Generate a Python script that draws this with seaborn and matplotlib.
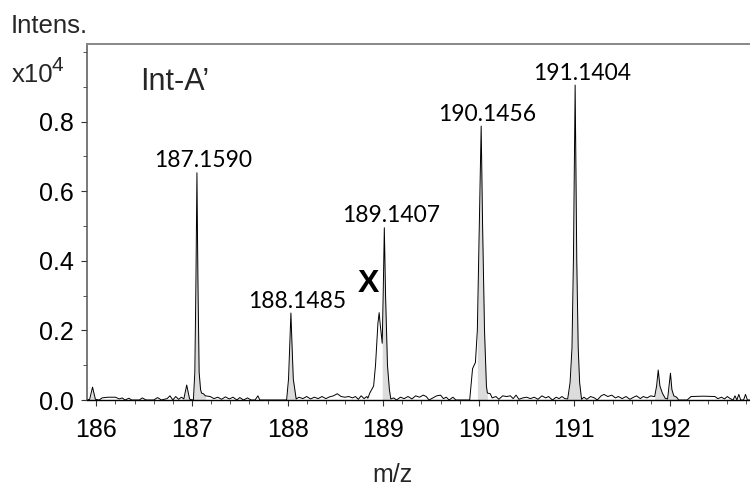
import matplotlib
matplotlib.use("Agg")
import numpy as np
import pandas as pd
import seaborn as sns
import matplotlib.pyplot as plt
from matplotlib.ticker import MultipleLocator, FormatStrFormatter

# ---- data (m/z, intensity in units of 1e4) ----
mz = [185.90, 185.93, 185.96, 185.99, 186.03, 186.06, 186.12, 186.20, 186.24, 186.27,
      186.30, 186.34, 186.37, 186.45, 186.48, 186.52, 186.60, 186.64, 186.68, 186.74,
      186.77, 186.80, 186.83, 186.86, 186.89, 186.915, 186.945, 186.975, 186.99,
      187.015, 187.03, 187.042, 187.052, 187.062, 187.075, 187.09, 187.10, 187.12, 187.14,
      187.19, 187.23, 187.27, 187.31, 187.35, 187.39, 187.43, 187.47, 187.50, 187.54,
      187.58, 187.62, 187.66, 187.69, 187.71,
      187.99, 188.01, 188.025, 188.035, 188.045, 188.06, 188.09,
      188.12, 188.16, 188.20, 188.24, 188.28, 188.32, 188.36, 188.40, 188.44, 188.48,
      188.52, 188.56, 188.60, 188.64, 188.68, 188.71, 188.74, 188.77, 188.80, 188.83,
      188.84, 188.86, 188.90, 188.92, 188.945, 188.958, 188.968, 188.99, 189.0, 189.012,
      189.025, 189.045, 189.065, 189.08,
      189.11, 189.14, 189.18, 189.22, 189.26, 189.30, 189.34, 189.38, 189.42, 189.45,
      189.48, 189.52, 189.56, 189.60, 189.63, 189.66, 189.69, 189.73, 189.76, 189.83,
      189.88, 189.905, 189.935, 189.965, 189.985, 190.005, 190.025, 190.04, 190.06, 190.08,
      190.09, 190.12, 190.14,
      190.18, 190.21, 190.25, 190.29, 190.33, 190.36, 190.39, 190.42, 190.46, 190.50,
      190.54, 190.58, 190.62, 190.66, 190.70, 190.73, 190.77, 190.81, 190.84, 190.87,
      190.90, 190.93, 190.955, 190.975, 190.99, 191.008, 191.025, 191.04, 191.055, 191.075,
      191.10, 191.13, 191.17, 191.21, 191.24, 191.28, 191.31, 191.35, 191.39, 191.43,
      191.46, 191.50, 191.54, 191.58, 191.62, 191.65, 191.69, 191.72, 191.76, 191.80,
      191.83, 191.84, 191.86, 191.877, 191.895, 191.92, 191.95, 191.975, 191.99, 192.005,
      192.02, 192.04, 192.07, 192.09,
      192.12, 192.18, 192.22, 192.35, 192.47, 192.50, 192.54, 192.57, 192.60, 192.63,
      192.66, 192.68, 192.70, 192.72, 192.74, 192.77, 192.79, 192.81, 192.85]
intensity = [0.000, 0.002, 0.037, 0.002, 0.000, 0.006, 0.008, 0.008, 0.003, 0.006,
             0.000, 0.005, 0.000, 0.000, 0.006, 0.000, 0.000, 0.007, 0.000, 0.004,
             0.012, 0.000, 0.010, 0.002, 0.008, 0.003, 0.043, 0.003, 0.001,
             0.000, 0.080, 0.350, 0.653, 0.350, 0.080, 0.030, 0.020, 0.018, 0.012,
             0.010, 0.004, 0.008, 0.002, 0.009, 0.003, 0.008, 0.000, 0.007, 0.000,
             0.006, 0.000, 0.000, 0.012, 0.000,
             0.000, 0.060, 0.170, 0.250, 0.170, 0.060, 0.003,
             0.008, 0.004, 0.010, 0.003, 0.008, 0.004, 0.010, 0.004, 0.009, 0.012,
             0.018, 0.010, 0.008, 0.010, 0.006, 0.010, 0.002, 0.012, 0.004, 0.010,
             0.005, 0.020, 0.040, 0.100, 0.220, 0.251, 0.220, 0.163, 0.300, 0.495,
             0.300, 0.100, 0.030, 0.003,
             0.006, 0.000, 0.008, 0.004, 0.010, 0.003, 0.012, 0.008, 0.014, 0.010,
             0.000, 0.006, 0.012, 0.014, 0.004, 0.008, 0.000, 0.008, 0.000, 0.000,
             0.000, 0.000, 0.090, 0.108, 0.200, 0.500, 0.787, 0.500, 0.200, 0.040,
             0.020, 0.018, 0.006,
             0.010, 0.002, 0.012, 0.010, 0.012, 0.004, 0.014, 0.002, 0.006, 0.008,
             0.004, 0.008, 0.002, 0.012, 0.006, 0.010, 0.000, 0.008, 0.004, 0.010,
             0.004, 0.003, 0.050, 0.150, 0.400, 0.905, 0.400, 0.150, 0.050, 0.002,
             0.008, 0.002, 0.010, 0.006, 0.000, 0.012, 0.016, 0.010, 0.014, 0.006,
             0.010, 0.004, 0.010, 0.002, 0.008, 0.012, 0.004, 0.010, 0.006, 0.012,
             0.010, 0.010, 0.040, 0.086, 0.040, 0.020, 0.005, 0.003, 0.040, 0.077,
             0.030, 0.012, 0.008, 0.000,
             0.000, 0.000, 0.010, 0.011, 0.010, 0.004, 0.008, 0.003, 0.010, 0.004,
             0.000, 0.012, 0.000, 0.016, 0.000, 0.000, 0.016, 0.000, 0.000]

# shaded (centroided) regions of the profile
fill_lo = [185.93, 186.915, 187.015, 187.99, 188.99, 189.985, 190.93, 191.84]
fill_hi = [185.99, 186.975, 187.14, 188.09, 189.08, 190.09, 191.075, 192.07]

# annotated peaks
peak_mz = [187.052, 188.035, 189.012, 190.025, 191.008]
peak_height = [0.653, 0.250, 0.495, 0.787, 0.905]
peak_labels = ["187.1590", "188.1485", "189.1407", "190.1456", "191.1404"]

x_ticks = [186, 187, 188, 189, 190, 191, 192]
y_ticks = [0.0, 0.2, 0.4, 0.6, 0.8]

# ---- figure ----
sns.set_theme(style="ticks")
plt.rcParams["font.family"] = ["Liberation Sans", "DejaVu Sans"]

W, H = 750, 486
fig = plt.figure(figsize=(W / 100, H / 100), dpi=100)
ax = fig.add_axes([86.7 / W, 1 - 400 / H, (W - 86.7) / W, (400 - 44) / H])

df = pd.DataFrame({"mz": mz, "intensity": intensity})
for lo, hi in zip(fill_lo, fill_hi):
    sub = df[(df["mz"] >= lo - 1e-9) & (df["mz"] <= hi + 1e-9)]
    ax.fill_between(sub["mz"], 0, sub["intensity"], color="#dcdcdc", lw=0, zorder=1)
sns.lineplot(data=df, x="mz", y="intensity", sort=False, estimator=None,
             color="black", lw=0.7, ax=ax, zorder=2)

ax.set_xlim(185.899, 192.837)
ax.set_ylim(0, 1.023)
ax.set_xticks(x_ticks)
ax.set_yticks(y_ticks)
ax.xaxis.set_minor_locator(MultipleLocator(0.2))
ax.yaxis.set_minor_locator(MultipleLocator(0.1))
ax.xaxis.set_major_formatter(FormatStrFormatter("%d"))
ax.yaxis.set_major_formatter(FormatStrFormatter("%.1f"))
ax.tick_params(axis="both", which="major", labelsize=18, length=4, width=0.8,
               color="#333333", labelcolor="black")
ax.tick_params(axis="x", which="major", pad=9)
ax.tick_params(axis="y", which="major", pad=5)
ax.tick_params(axis="both", which="minor", length=3, width=0.7, color="#555555")
ax.set_xlabel("")
ax.set_ylabel("")

ax.spines["right"].set_visible(False)
ax.spines["top"].set_color("#888888")
ax.spines["top"].set_linewidth(1.4)
ax.spines["left"].set_color("#555555")
ax.spines["left"].set_linewidth(1.1)
ax.spines["bottom"].set_color("black")
ax.spines["bottom"].set_linewidth(1.0)

for x, y, lab in zip(peak_mz, peak_height, peak_labels):
    ax.annotate(lab, xy=(x, y), xytext=(6.5, 5.5), textcoords="offset pixels",
                ha="center", va="baseline", fontsize=16.5,
                family=["Lato", "DejaVu Sans"], color="black")

ax.text(188.841, 0.310, "X", ha="center", va="baseline", fontsize=23,
        fontweight="bold", color="black")

fig.text(140 / W, 1 - 90 / H, "Int-A\u2019", ha="left", va="baseline", fontsize=22)
fig.text(11 / W, 1 - 33 / H, "Intens.", ha="left", va="baseline", fontsize=18.5)
fig.text(12 / W, 1 - 82 / H, "x10", ha="left", va="baseline", fontsize=18.5)
fig.text(52 / W, 1 - 71 / H, "4", ha="left", va="baseline", fontsize=15)
fig.text(392 / W, 1 - 482 / H, "m/z", ha="center", va="baseline", fontsize=18)

fig.savefig("out.png", dpi=100)
